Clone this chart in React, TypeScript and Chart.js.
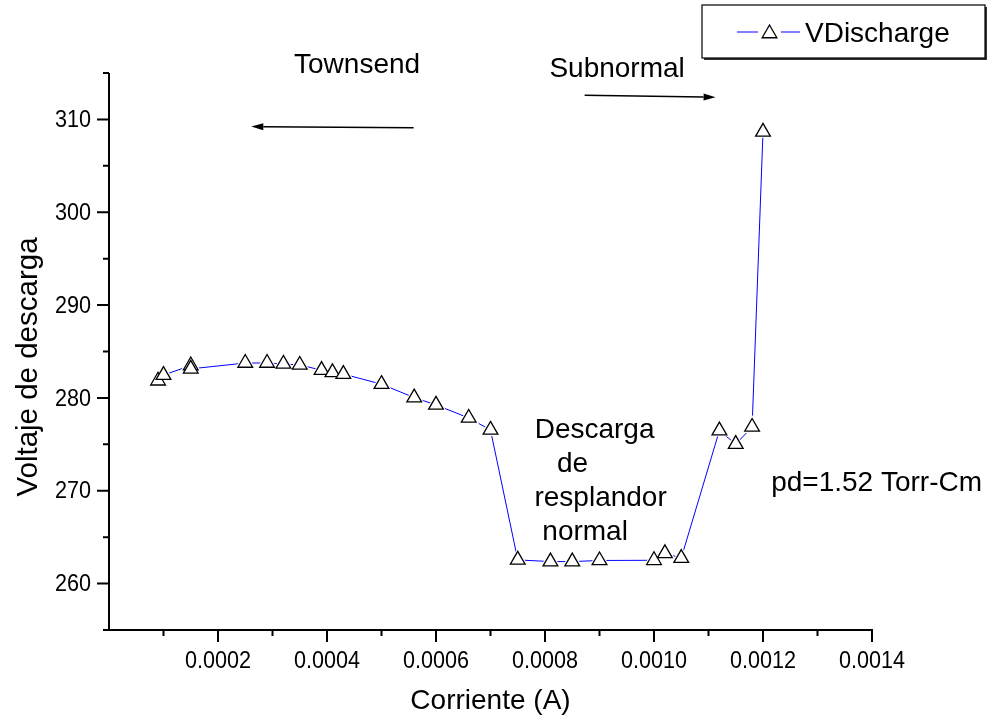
import React, { useEffect, useRef } from 'react';
import { Chart, registerables } from 'chart.js';

Chart.register(...registerables);

// ---- data ----
const currentA = [
  0.00009, 0.0001, 0.00015, 0.00015, 0.00025, 0.00029, 0.00032, 0.00035, 0.00039,
  0.00041, 0.00043, 0.0005, 0.00056, 0.0006, 0.00066, 0.0007, 0.00075, 0.00081,
  0.00085, 0.0009, 0.001, 0.00102, 0.00105, 0.00112, 0.00115, 0.00118, 0.0012,
];
const vDischarge = [
  281.85, 282.46, 283.49, 283.13, 283.76, 283.76, 283.66, 283.55, 282.99,
  282.75, 282.57, 281.48, 280.03, 279.25, 277.84, 276.55, 262.55, 262.37,
  262.37, 262.49, 262.51, 263.26, 262.75, 276.48, 275.02, 276.87, 308.66,
];
const seriesName = 'VDischarge';

const xMajorTicks = [0.0002, 0.0004, 0.0006, 0.0008, 0.001, 0.0012, 0.0014];
const xTickLabels = ['0.0002', '0.0004', '0.0006', '0.0008', '0.0010', '0.0012', '0.0014'];
const xMinorTicks = [0.0001, 0.0003, 0.0005, 0.0007, 0.0009, 0.0011, 0.0013];
const yMajorTicks = [260, 270, 280, 290, 300, 310];
const yTickLabels = ['260', '270', '280', '290', '300', '310'];
const yMinorTicks = [255, 265, 275, 285, 295, 305, 315];

const xTitle = 'Corriente (A)';
const yTitle = 'Voltaje de descarga';

// annotations (data coordinates)
const noteTexts = ['Townsend', 'Subnormal', 'Descarga', 'de', 'resplandor', 'normal', 'pd=1.52 Torr-Cm'];
const noteX = [0.0004552, 0.0009323, 0.000891, 0.0008506, 0.000902, 0.0008736, 0.0014084];
const noteY = [314.95, 314.58, 275.68, 271.98, 268.39, 264.73, 270.01];

const arrowFromX = [0.0005589, 0.0008727];
const arrowFromY = [309.1, 312.61];
const arrowToX = [0.0002611, 0.001113];
const arrowToY = [309.23, 312.4];

const FONT = '"Liberation Sans", Arial, sans-serif';

function triangle(ctx: CanvasRenderingContext2D, x: number, y: number, r: number) {
  ctx.beginPath();
  ctx.moveTo(x, y - r);
  ctx.lineTo(x + Math.sin((2 * Math.PI) / 3) * r, y + r / 2);
  ctx.lineTo(x - Math.sin((2 * Math.PI) / 3) * r, y + r / 2);
  ctx.closePath();
}

function narrowText(ctx: CanvasRenderingContext2D, t: string, x: number, y: number, sx: number) {
  ctx.save();
  ctx.translate(x, y);
  ctx.scale(sx, 1);
  ctx.fillText(t, 0, 0);
  ctx.restore();
}

const customPlugin = {
  id: 'customDecor',
  afterDraw(chart: any) {
    const ctx: CanvasRenderingContext2D = chart.ctx;
    const xs = chart.scales.x;
    const ys = chart.scales.y;
    const ca = chart.chartArea;
    ctx.save();
    ctx.strokeStyle = '#000';
    ctx.fillStyle = '#000';
    ctx.lineWidth = 2;
    ctx.lineCap = 'butt';

    // axes lines
    ctx.beginPath();
    ctx.moveTo(ca.left, ca.top);
    ctx.lineTo(ca.left, ca.bottom + 1);
    ctx.moveTo(ca.left - 1, ca.bottom);
    ctx.lineTo(ca.right + 1, ca.bottom);
    ctx.stroke();

    // ticks
    ctx.beginPath();
    xMajorTicks.forEach((v) => {
      const px = xs.getPixelForValue(v);
      ctx.moveTo(px, ca.bottom);
      ctx.lineTo(px, ca.bottom + 12);
    });
    xMinorTicks.forEach((v) => {
      const px = xs.getPixelForValue(v);
      ctx.moveTo(px, ca.bottom);
      ctx.lineTo(px, ca.bottom + 6);
    });
    yMajorTicks.forEach((v) => {
      const py = ys.getPixelForValue(v);
      ctx.moveTo(ca.left, py);
      ctx.lineTo(ca.left - 12, py);
    });
    yMinorTicks.forEach((v) => {
      const py = ys.getPixelForValue(v);
      ctx.moveTo(ca.left, py);
      ctx.lineTo(ca.left - 6, py);
    });
    ctx.stroke();

    // tick labels (slightly condensed, as in the reference)
    ctx.font = `24px ${FONT}`;
    ctx.textAlign = 'center';
    ctx.textBaseline = 'top';
    xMajorTicks.forEach((v, i) => {
      narrowText(ctx, xTickLabels[i], xs.getPixelForValue(v), ca.bottom + 19, 0.9);
    });
    ctx.textAlign = 'right';
    ctx.textBaseline = 'middle';
    yMajorTicks.forEach((v, i) => {
      narrowText(ctx, yTickLabels[i], ca.left - 18, ys.getPixelForValue(v) + 1, 0.9);
    });

    // axis titles
    ctx.font = `28px ${FONT}`;
    ctx.textAlign = 'center';
    ctx.textBaseline = 'alphabetic';
    ctx.fillText(xTitle, (ca.left + ca.right) / 2, 709);
    ctx.save();
    ctx.translate(37, 367);
    ctx.rotate(-Math.PI / 2);
    ctx.font = `29.5px ${FONT}`;
    ctx.fillText(yTitle, 0, 0);
    ctx.restore();

    // annotations
    ctx.font = `28px ${FONT}`;
    noteTexts.forEach((t, i) => {
      ctx.fillText(t, xs.getPixelForValue(noteX[i]), ys.getPixelForValue(noteY[i]));
    });

    // arrows
    ctx.lineWidth = 1.5;
    arrowFromX.forEach((_, i) => {
      const x1 = xs.getPixelForValue(arrowFromX[i]);
      const y1 = ys.getPixelForValue(arrowFromY[i]);
      const x2 = xs.getPixelForValue(arrowToX[i]);
      const y2 = ys.getPixelForValue(arrowToY[i]);
      const ang = Math.atan2(y2 - y1, x2 - x1);
      const hl = 12;
      const hw = 3.5;
      const bx = x2 - Math.cos(ang) * hl;
      const by = y2 - Math.sin(ang) * hl;
      ctx.beginPath();
      ctx.moveTo(x1, y1);
      ctx.lineTo(bx, by);
      ctx.stroke();
      ctx.beginPath();
      ctx.moveTo(x2, y2);
      ctx.lineTo(bx + Math.sin(ang) * hw, by - Math.cos(ang) * hw);
      ctx.lineTo(bx - Math.sin(ang) * hw, by + Math.cos(ang) * hw);
      ctx.closePath();
      ctx.fill();
    });

    // legend
    const lx = 702, ly = 5, lw = 283, lh = 53;
    ctx.fillStyle = '#333';
    ctx.fillRect(lx + 2, ly + 2, lw, lh);
    ctx.fillStyle = '#fff';
    ctx.fillRect(lx, ly, lw, lh);
    ctx.strokeStyle = '#000';
    ctx.lineWidth = 1.2;
    ctx.strokeRect(lx, ly, lw, lh);
    ctx.strokeStyle = '#0000ff';
    ctx.lineWidth = 1;
    ctx.beginPath();
    ctx.moveTo(737, 32);
    ctx.lineTo(758, 32);
    ctx.moveTo(781, 32);
    ctx.lineTo(800, 32);
    ctx.stroke();
    triangle(ctx, 769.5, 33.5, 8.5);
    ctx.fillStyle = '#fff';
    ctx.fill();
    ctx.strokeStyle = '#000';
    ctx.lineWidth = 1.3;
    ctx.stroke();
    ctx.fillStyle = '#000';
    ctx.font = `28px ${FONT}`;
    ctx.textAlign = 'left';
    ctx.textBaseline = 'alphabetic';
    ctx.fillText(seriesName, 805, 42);

    ctx.restore();
  },
};

export default function App() {
  const canvasRef = useRef<HTMLCanvasElement | null>(null);

  useEffect(() => {
    const canvas = canvasRef.current;
    if (!canvas) return;
    const points = currentA.map((x, i) => ({ x, y: vDischarge[i] }));
    const chart = new Chart(canvas, {
      type: 'line',
      data: {
        datasets: [
          {
            // markers (drawn on top)
            label: seriesName,
            data: points,
            showLine: false,
            pointStyle: 'triangle',
            pointRadius: 8.5,
            pointHoverRadius: 8.5,
            pointBackgroundColor: '#ffffff',
            pointBorderColor: '#000000',
            pointBorderWidth: 1.3,
          },
          {
            // white halo that breaks the line around each marker
            label: 'gap',
            data: points,
            showLine: false,
            pointStyle: 'triangle',
            pointRadius: 12,
            pointHoverRadius: 12,
            pointBackgroundColor: '#ffffff',
            pointBorderColor: '#ffffff',
            pointBorderWidth: 0,
          },
          {
            // connecting line (drawn first)
            label: 'line',
            data: points,
            borderColor: '#0000ff',
            borderWidth: 1,
            tension: 0,
            pointRadius: 0,
            pointHoverRadius: 0,
            fill: false,
          },
        ],
      },
      options: {
        animation: false,
        responsive: false,
        devicePixelRatio: 1,
        events: [],
        layout: { padding: { top: 73, right: 116, left: 0, bottom: 0 } },
        plugins: {
          legend: { display: false },
          tooltip: { enabled: false },
          title: { display: false },
        },
        scales: {
          x: {
            type: 'linear',
            min: 0,
            max: 0.0014,
            grid: { display: false },
            border: { display: false },
            ticks: { display: false },
            afterFit: (scale: any) => {
              scale.height = 87;
            },
          },
          y: {
            type: 'linear',
            min: 255,
            max: 315,
            grid: { display: false },
            border: { display: false },
            ticks: { display: false },
            afterFit: (scale: any) => {
              scale.width = 109;
            },
          },
        },
      },
      plugins: [customPlugin],
    });
    return () => chart.destroy();
  }, []);

  return (
    <div style={{ position: 'fixed', left: 0, top: 0, width: 988, height: 717, background: '#fff' }}>
      <canvas ref={canvasRef} width={988} height={717} style={{ display: 'block' }} />
    </div>
  );
}
